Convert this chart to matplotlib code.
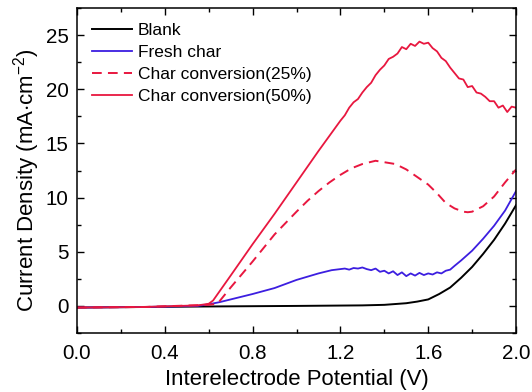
import matplotlib
matplotlib.use("Agg")
import matplotlib.pyplot as plt
from matplotlib.ticker import MultipleLocator

plt.rcParams['font.family'] = ['Liberation Sans', 'DejaVu Sans']
plt.rcParams['mathtext.fontset'] = 'custom'
plt.rcParams['mathtext.rm'] = 'Liberation Sans'
plt.rcParams['mathtext.it'] = 'Liberation Sans:italic'

# ---- data ----
labels = ["Blank", "Fresh char", "Char conversion(25%)", "Char conversion(50%)"]

blank_x = [0.00, 0.60, 1.00, 1.30, 1.40, 1.50, 1.55, 1.60, 1.65, 1.70, 1.75, 1.80, 1.85, 1.90, 1.95, 2.00]
blank_y = [-0.15, -0.05, 0.00, 0.05, 0.10, 0.25, 0.40, 0.60, 1.10, 1.70, 2.60, 3.60, 4.80, 6.10, 7.60, 9.30]

fresh_x = [0.00, 0.30, 0.55, 0.60, 0.65, 0.70, 0.80, 0.90, 1.00, 1.10,
           1.16, 1.18, 1.20, 1.22, 1.24, 1.26, 1.28, 1.30, 1.32, 1.34,
           1.36, 1.38, 1.40, 1.42, 1.44, 1.46, 1.48, 1.50, 1.52, 1.54,
           1.56, 1.58, 1.60, 1.62, 1.64, 1.66, 1.68, 1.70, 1.72,
           1.75, 1.80, 1.85, 1.90, 1.95, 2.00]
fresh_y = [-0.15, -0.10, 0.00, 0.15, 0.35, 0.60, 1.10, 1.65, 2.40, 3.00,
           3.30, 3.35, 3.40, 3.45, 3.35, 3.50, 3.45, 3.55, 3.40, 3.30,
           3.45, 3.15, 3.25, 3.00, 3.20, 2.85, 3.10, 2.75, 3.00, 2.80,
           3.05, 2.85, 3.00, 2.90, 3.10, 3.00, 3.25, 3.35, 3.70,
           4.20, 5.10, 6.20, 7.40, 8.80, 10.60]

conv25_x = [0.00, 0.30, 0.60, 0.64, 0.70, 0.80, 0.90, 1.00, 1.05, 1.10, 1.15, 1.20,
            1.25, 1.30, 1.36, 1.45, 1.50, 1.55, 1.60, 1.64, 1.68, 1.72, 1.76, 1.78,
            1.80, 1.85, 1.90, 1.95, 2.00]
conv25_y = [-0.15, -0.10, 0.10, 0.20, 1.70, 4.10, 6.60, 8.70, 9.70, 10.60, 11.40, 12.10,
            12.70, 13.10, 13.40, 13.10, 12.60, 11.90, 11.20, 10.40, 9.50, 9.00, 8.70, 8.65,
            8.70, 9.20, 10.10, 11.40, 12.60]

conv50_x = [0.00, 0.30, 0.55, 0.60, 0.62, 0.70, 0.80, 0.90, 1.00, 1.10, 1.20,
            1.22, 1.24, 1.26, 1.28, 1.30, 1.32, 1.34, 1.36, 1.38, 1.40,
            1.42, 1.44, 1.46, 1.48, 1.50, 1.52, 1.54, 1.56, 1.58, 1.60,
            1.62, 1.64, 1.66, 1.68, 1.70, 1.72, 1.74, 1.76, 1.78, 1.80,
            1.82, 1.84, 1.86, 1.88, 1.90, 1.92, 1.94, 1.96, 1.98, 2.00]
conv50_y = [-0.15, -0.10, 0.05, 0.20, 0.50, 2.80, 5.70, 8.50, 11.40, 14.30, 17.10,
            17.60, 18.30, 18.80, 19.10, 19.70, 20.20, 20.60, 21.30, 21.80, 22.20,
            22.80, 23.00, 23.30, 23.90, 23.70, 24.20, 24.00, 24.40, 24.20, 24.30,
            23.80, 23.50, 22.90, 22.60, 22.00, 21.50, 21.00, 20.90, 20.20, 20.30,
            19.70, 19.60, 19.30, 18.90, 18.90, 18.30, 18.50, 17.90, 18.40, 18.30]

x_ticks = [0.0, 0.4, 0.8, 1.2, 1.6, 2.0]
y_ticks = [0, 5, 10, 15, 20, 25]

# ---- plot ----
fig = plt.figure(figsize=(5.32, 3.92), dpi=100)
ax = fig.add_axes([0.1447, 0.1505, 0.8253, 0.829])

red = '#E8173F'
blue = '#3C1EE0'
ax.plot(blank_x, blank_y, color='black', lw=1.4, label=labels[0])
ax.plot(fresh_x, fresh_y, color=blue, lw=1.3, label=labels[1])
ax.plot(conv25_x, conv25_y, color=red, lw=1.4, dashes=(5, 3.2), label=labels[2])
ax.plot(conv50_x, conv50_y, color=red, lw=1.3, label=labels[3])

ax.set_xlim(0, 2.0)
ax.set_ylim(-2.5, 27.5)
ax.set_xticks(x_ticks)
ax.set_xticklabels([f"{v:.1f}" for v in x_ticks])
ax.set_yticks(y_ticks)
ax.xaxis.set_minor_locator(MultipleLocator(0.2))
ax.yaxis.set_minor_locator(MultipleLocator(2.5))
ax.tick_params(which='both', direction='in', top=True, right=True, width=1.0)
ax.tick_params(which='major', length=5, labelsize=14.8)
ax.tick_params(axis='x', which='major', pad=8)
ax.tick_params(axis='y', which='major', pad=6)
ax.tick_params(which='minor', length=3)
for s in ax.spines.values():
    s.set_linewidth(1.1)

ax.set_xlabel("Interelectrode Potential (V)", fontsize=15.9, labelpad=4)
ax.set_ylabel("Current Density (mA$\\cdot$cm$^{-2}$)", fontsize=16.0)
ax.yaxis.set_label_coords(-0.08, 0.47)

ax.legend(loc='upper left', frameon=False, fontsize=12.5, handlelength=2.3,
          handletextpad=0.35, labelspacing=0.4, borderaxespad=0.0, borderpad=0.0,
          bbox_to_anchor=(0.034, 0.955))

fig.savefig("out.png", dpi=100)
